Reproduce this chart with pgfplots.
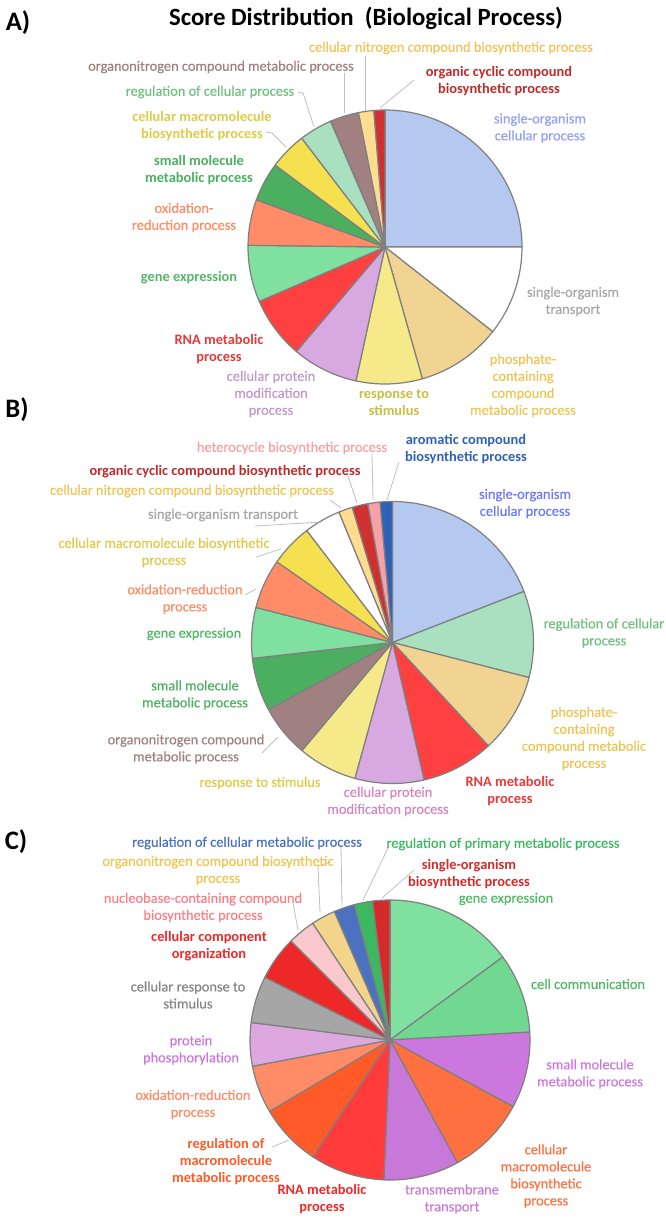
\documentclass[border=0pt]{standalone}
\usepackage{pgfplots}
\pgfplotsset{compat=1.18}
\usepackage{pgfplotstable}
\usepackage{fontspec}
\setmainfont{Carlito}[UprightFeatures={FakeBold=0.35}]

% slice colours
\definecolor{sBlue}{HTML}{B4C8F0}
\definecolor{sWhite}{HTML}{FFFFFF}
\definecolor{sTan}{HTML}{F2D492}
\definecolor{sYel}{HTML}{F5E98A}
\definecolor{sLav}{HTML}{D8A8E0}
\definecolor{sRed}{HTML}{FF4040}
\definecolor{sGene}{HTML}{80E0A0}
\definecolor{sSalm}{HTML}{FF8C66}
\definecolor{sGrn}{HTML}{4CAF60}
\definecolor{sYel2}{HTML}{F5E050}
\definecolor{sMint}{HTML}{A8E0C0}
\definecolor{sBrn}{HTML}{A08080}
\definecolor{sLYel}{HTML}{FFDC90}
\definecolor{sDRed}{HTML}{D03030}
\definecolor{sPink}{HTML}{F8A0A8}
\definecolor{sDBlue}{HTML}{2E60B8}
\definecolor{sComm}{HTML}{70D890}
\definecolor{sPurp}{HTML}{CC77DD}
\definecolor{sOrng}{HTML}{FF7040}
\definecolor{sPurp2}{HTML}{C878D8}
\definecolor{sRed2}{HTML}{FF3B3B}
\definecolor{sOrRed}{HTML}{FF5A28}
\definecolor{sLLav}{HTML}{DDA8E0}
\definecolor{sGray}{HTML}{A6A6A6}
\definecolor{sRed3}{HTML}{EE2828}
\definecolor{sLPink}{HTML}{F8C8CC}
\definecolor{sTan2}{HTML}{F2D58A}
\definecolor{sMBlue}{HTML}{4A72C0}
\definecolor{sMGrn}{HTML}{3CB860}
\definecolor{sDRed2}{HTML}{D42A2A}
\definecolor{edge}{HTML}{7F7F7F}
\definecolor{lead}{HTML}{BFBFBF}
\definecolor{tGold}{HTML}{EEC455}

% share of each slice (percent), clockwise from 12 o'clock
\pgfplotstableread{
v c
25.0 sBlue
10.6 sWhite
10.0 sTan
7.8 sYel
7.8 sLav
7.3 sRed
6.7 sGene
5.4 sSalm
4.6 sGrn
4.4 sYel2
3.9 sMint
3.4 sBrn
1.8 sLYel
1.3 sDRed
}\pieA

\pgfplotstableread{
v c
19.1 sBlue
9.9 sMint
9.1 sTan
8.3 sRed
7.9 sLav
6.8 sYel
6.0 sBrn
6.1 sGrn
5.8 sGene
5.7 sSalm
4.9 sYel2
4.2 sWhite
1.6 sLYel
1.8 sDRed
1.4 sPink
1.4 sDBlue
}\pieB

\pgfplotstableread{
v c
14.9 sGene
9.2 sComm
8.8 sPurp
9.1 sOrng
8.7 sPurp2
8.6 sRed2
7.2 sOrRed
5.5 sSalm
5.0 sLLav
5.4 sGray
5.1 sRed3
3.2 sLPink
2.8 sTan2
2.4 sMBlue
2.1 sMGrn
2.0 sDRed2
}\pieC

% #1 table, #2 cx, #3 cy, #4 radius (axis units)
\newcommand\drawpie[4]{%
  \pgfplotsextra{%
    \gdef\cum{0}%
    \pgfplotstableforeachcolumnelement{v}\of#1\as\val{%
      \pgfplotstablegetelem{\pgfplotstablerow}{c}\of#1%
      \edef\col{\pgfplotsretval}%
      \pgfmathsetmacro\aS{90-3.6*\cum}%
      \pgfmathsetmacro\aE{90-3.6*(\cum+\val)}%
      \pgfmathsetmacro\px{#2+#4*cos(\aS)}%
      \pgfmathsetmacro\py{#3-#4*sin(\aS)}%
      \filldraw[fill=\col, draw=edge, line width=0.9pt, line join=round]
        (axis cs:#2,#3) -- (axis cs:\px,\py)
        arc[start angle=\aS, end angle=\aE, radius=#4*0.75pt] -- cycle;
      \pgfmathparse{\cum+\val}\xdef\cum{\pgfmathresult}%
    }%
  }%
}

\newcommand\lab[4]{\node[text=#3, align=center, inner sep=0pt,
  font=\fontsize{10.8}{12.75}\selectfont] at (axis cs:#1,#2) {#4};}
\newcommand\labb[4]{\node[text=#3, align=center, inner sep=0pt,
  font=\fontsize{10.8}{12.75}\selectfont\bfseries] at (axis cs:#1,#2) {#4};}

\begin{document}
\begin{tikzpicture}
\begin{axis}[
  scale only axis,
  width=499.5pt, height=912.75pt,
  xmin=0, xmax=666, ymin=0, ymax=1217,
  y dir=reverse,
  hide axis,
  clip=false,
]
\path (axis cs:0,0) rectangle (axis cs:666,1217);

\drawpie{\pieA}{385}{247}{137}
\drawpie{\pieB}{392.5}{642.5}{141}
\drawpie{\pieC}{390}{1040}{140}

% leader lines
\begin{scope}[draw=lead, line width=0.6pt]
\draw (axis cs:365,56) -- (axis cs:365,111);
\draw (axis cs:344,73) -- (axis cs:344,113);
\draw (axis cs:414,80) -- (axis cs:380,108);
\draw (axis cs:298,92) -- (axis cs:303,93) -- (axis cs:314,127);
\draw (axis cs:266,132) -- (axis cs:272,133) -- (axis cs:286,147);
\draw (axis cs:372,454) -- (axis cs:373,500);
\draw (axis cs:399,462) -- (axis cs:387,500);
\draw (axis cs:348,476) -- (axis cs:357,503);
\draw (axis cs:330,500) -- (axis cs:341,508);
\draw (axis cs:255,526) -- (axis cs:322,522);
\draw (axis cs:256,557) -- (axis cs:281,549);
\draw (axis cs:245,595) -- (axis cs:256,589);
\draw (axis cs:262,753) -- (axis cs:278,737);
\draw (axis cs:341,847) -- (axis cs:342,906);
\draw (axis cs:389,846) -- (axis cs:363,900);
\draw (axis cs:414,870) -- (axis cs:382,898);
\draw (axis cs:331,862) -- (axis cs:318,866) -- (axis cs:320,912);
\draw (axis cs:293,903) -- (axis cs:298,930);
\draw (axis cs:272,1147) -- (axis cs:289,1140);
\end{scope}

% titles
\node[font=\fontsize{18.6}{22}\selectfont\bfseries, inner sep=0pt] at (axis cs:366,18) {Score Distribution~~(Biological Process)};
\node[font=\fontsize{20}{24}\selectfont\bfseries, inner sep=0pt] at (axis cs:18,23) {A)};
\node[font=\fontsize{20}{24}\selectfont\bfseries, inner sep=0pt] at (axis cs:17,410) {B)};
\node[font=\fontsize{20}{24}\selectfont\bfseries, inner sep=0pt] at (axis cs:16,842) {C)};

% labels A
\lab{451}{48}{tGold}{cellular nitrogen compound biosynthetic process}
\lab{221}{67}{sBrn}{organonitrogen compound metabolic process}
\labb{499}{81}{sDRed!90!black}{organic cyclic compound\\biosynthetic process}
\lab{210}{92}{sGrn!80!white}{regulation of cellular process}
\labb{202}{126}{sYel2!90!black}{cellular macromolecule\\biosynthetic process}
\lab{540}{128}{sBlue!80!blue}{single-organism\\cellular process}
\labb{199}{170}{sGrn}{small molecule\\metabolic process}
\lab{184}{217.5}{sSalm}{oxidation-\\reduction process}
\labb{189}{278}{sGene!80!green!80!black}{gene expression}
\lab{573}{301.5}{sGray}{single-organism\\transport}
\labb{219}{349}{sRed!90!black}{RNA metabolic\\process}
\lab{271}{394}{sLav!90!black}{cellular protein\\modification\\process}
\labb{394}{402.5}{sYel!70!black!70!yellow}{response to\\stimulus}
\lab{523}{385.5}{tGold}{phosphate-\\containing\\compound\\metabolic process}

% labels B
\lab{292}{448}{sPink}{heterocycle biosynthetic process}
\labb{466}{449}{sDBlue}{aromatic compound\\biosynthetic process}
\labb{225}{472}{sDRed!90!black}{organic cyclic compound biosynthetic process}
\lab{192}{491}{tGold}{cellular nitrogen compound biosynthetic process}
\lab{223}{515}{sGray}{single-organism transport}
\lab{525}{503.5}{sBlue!60!blue}{single-organism\\cellular process}
\lab{164}{552.5}{sYel2!90!black}{cellular macromolecule biosynthetic\\process}
\lab{185}{599}{sSalm}{oxidation-reduction\\process}
\lab{194}{634}{sGene!80!green!80!black}{gene expression}
\lab{604}{633}{sGrn!80!white}{regulation of cellular\\process}
\lab{195}{695}{sGrn}{small molecule\\metabolic process}
\lab{186}{749}{sBrn}{organonitrogen compound\\metabolic process}
\lab{584}{738.5}{tGold}{phosphate-\\containing\\compound metabolic\\process}
\lab{260}{783}{sYel2!90!black}{response to stimulus}
\labb{510}{791}{sRed!90!black}{RNA metabolic\\process}
\lab{388}{801.5}{sLav!80!purple}{cellular protein\\modification process}

% labels C
\lab{247}{843}{sMBlue}{regulation of cellular metabolic process}
\lab{503}{844}{sMGrn}{regulation of primary metabolic process}
\lab{218}{870.5}{tGold}{organonitrogen compound biosynthetic\\process}
\labb{469}{874}{sDRed2}{single-organism\\biosynthetic process}
\lab{203}{907.5}{sPink!80!red}{nucleobase-containing compound\\biosynthetic process}
\lab{506}{899}{sGene!80!green!80!black}{gene expression}
\labb{209}{946}{sRed3}{cellular component\\organization}
\lab{588}{984}{sGene!80!green!80!black}{cell communication}
\lab{188}{995}{sGray!80!black}{cellular response to\\stimulus}
\lab{191}{1050}{sPurp}{protein\\phosphorylation}
\lab{590}{1074}{sPurp}{small molecule\\metabolic process}
\lab{193}{1104.5}{sSalm}{oxidation-reduction\\process}
\labb{226}{1161.5}{sOrRed}{regulation of\\macromolecule\\metabolic process}
\lab{546}{1176}{sOrng}{cellular\\macromolecule\\biosynthetic\\process}
\labb{322}{1199}{sRed3}{RNA metabolic\\process}
\lab{452}{1199}{sPurp2}{transmembrane\\transport}
\end{axis}
\end{tikzpicture}
\end{document}
